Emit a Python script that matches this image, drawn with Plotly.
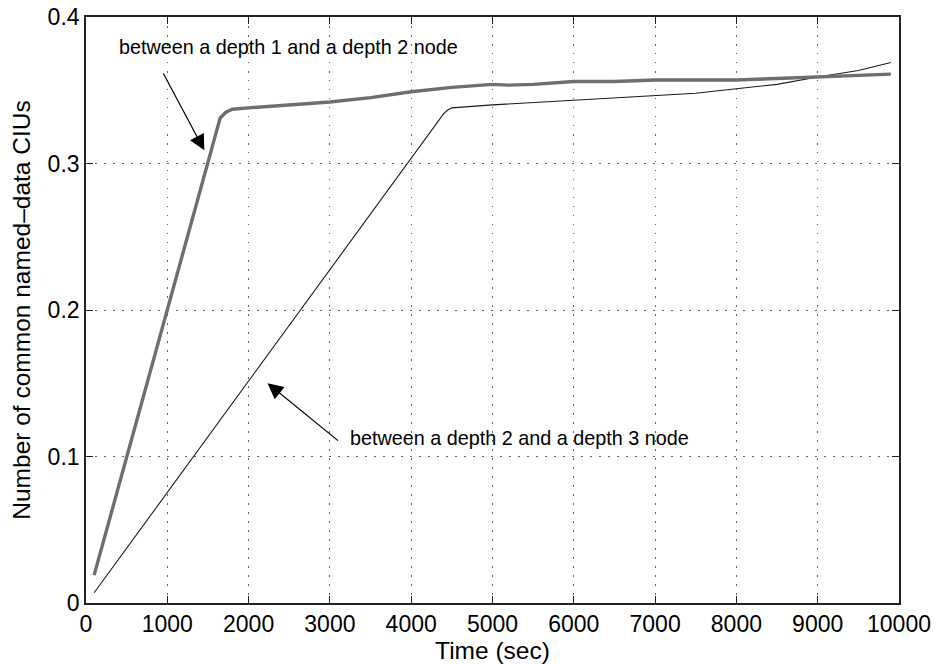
import plotly.graph_objects as go

# Common named-data CIUs over time for two node pairs
time_d12 = [100, 1650, 1720, 1800, 2000, 2500, 3000, 3500, 4000, 4500, 5000, 5200, 5500,
            6000, 6500, 7000, 7500, 7800, 8000, 8500, 9000, 9500, 9900]
ciu_d12 = [0.019, 0.331, 0.335, 0.337, 0.338, 0.340, 0.342, 0.345, 0.349, 0.352, 0.354, 0.3535, 0.354,
           0.356, 0.356, 0.357, 0.357, 0.3565, 0.357, 0.358, 0.359, 0.360, 0.361]

time_d23 = [100, 4400, 4450, 4500, 5000, 6000, 7000, 7500, 8000, 8500, 9000, 9500, 9900]
ciu_d23 = [0.007, 0.334, 0.3365, 0.338, 0.340, 0.343, 0.3465, 0.348, 0.351, 0.354, 0.359, 0.3635, 0.369]

x_ticks = [0, 1000, 2000, 3000, 4000, 5000, 6000, 7000, 8000, 9000, 10000]
y_ticks = [0, 0.1, 0.2, 0.3, 0.4]
y_tick_text = ["0", "0.1", "0.2", "0.3", "0.4"]

label_d12 = "between a depth 1 and a depth 2 node"
label_d23 = "between a depth 2 and a depth 3 node"

FONT = "Liberation Sans, Arial, Helvetica, sans-serif"

fig = go.Figure()
fig.add_trace(go.Scatter(x=time_d23, y=ciu_d23, mode="lines",
                         line=dict(color="#1a1a1a", width=1.1), showlegend=False))
fig.add_trace(go.Scatter(x=time_d12, y=ciu_d12, mode="lines",
                         line=dict(color="#6e6e6e", width=3.4), showlegend=False))

axis_common = dict(
    showline=True, linecolor="#222", linewidth=1.6, mirror="ticks",
    ticks="inside", ticklen=7, tickcolor="#222", tickwidth=1.2,
    showgrid=True, gridcolor="#666", gridwidth=1, griddash="1.5px,7.5px",
    zeroline=False, automargin=False,
    tickfont=dict(family=FONT, size=23, color="black"),
)

fig.update_xaxes(range=[0, 10000], tickvals=x_ticks, ticktext=[str(v) for v in x_ticks],
                 title=dict(text="Time (sec)", font=dict(family=FONT, size=24.5, color="black"),
                            standoff=0),
                 **axis_common)
fig.update_yaxes(range=[0, 0.4], tickvals=y_ticks, ticktext=y_tick_text,
                 title=dict(text="Number of common named–data CIUs",
                            font=dict(family=FONT, size=24.5, color="black"), standoff=10),
                 **axis_common)

# Text labels
fig.add_annotation(x=385, y=0.3798, xref="x", yref="y", text=label_d12, showarrow=False,
                   xanchor="left", yanchor="middle",
                   font=dict(family=FONT, size=19.8, color="black"))
fig.add_annotation(x=3225, y=0.1126, xref="x", yref="y", text=label_d23, showarrow=False,
                   xanchor="left", yanchor="middle",
                   font=dict(family=FONT, size=19.8, color="black"))

# Arrows pointing at each curve
fig.add_annotation(x=1455, y=0.309, ax=942, ay=0.3625, xref="x", yref="y", axref="x", ayref="y",
                   text="", showarrow=True, arrowhead=2, arrowsize=2.6, arrowwidth=1.2,
                   arrowcolor="black")
fig.add_annotation(x=2233, y=0.150, ax=3118, ay=0.110, xref="x", yref="y", axref="x", ayref="y",
                   text="", showarrow=True, arrowhead=2, arrowsize=2.6, arrowwidth=1.2,
                   arrowcolor="black")

fig.update_layout(
    width=936, height=664,
    margin=dict(l=86, r=37, t=17, b=61),
    paper_bgcolor="white", plot_bgcolor="white",
    font=dict(family=FONT, color="black"),
)

fig.write_html("out.html")
